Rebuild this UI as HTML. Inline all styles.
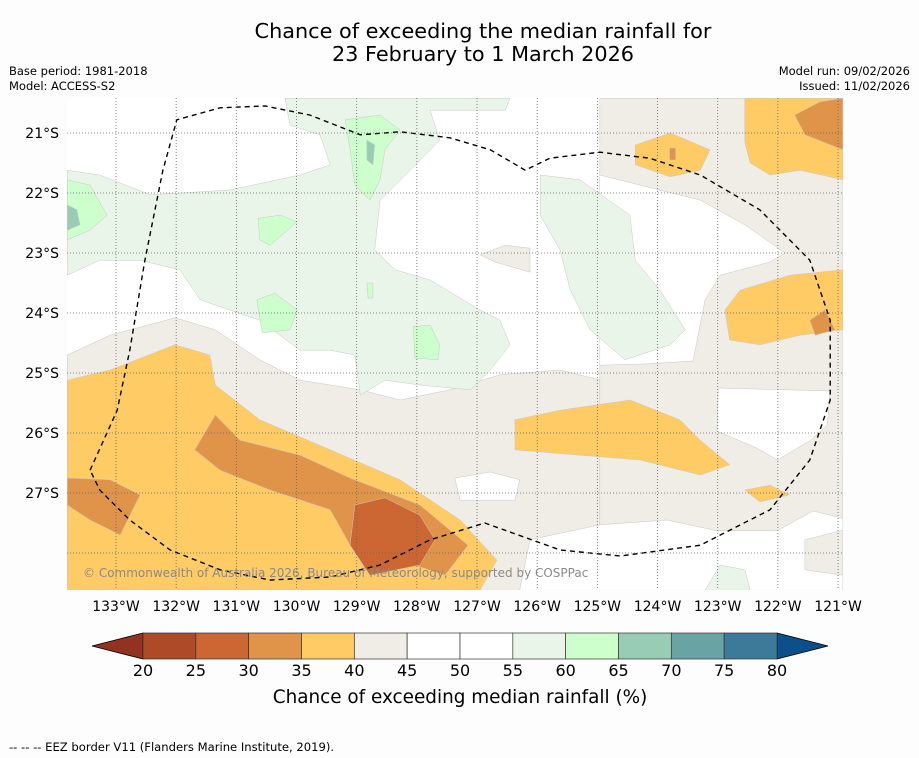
<!DOCTYPE html>
<html><head><meta charset="utf-8"><style>
body{margin:0;background:#fdfdfd;}
svg{display:block;font-family:"DejaVu Sans","Liberation Sans",sans-serif;}
</style></head><body>
<svg id="c" width="919" height="758" viewBox="0 0 919 758">
<rect width="919" height="758" fill="#fdfdfd"/>
<text x="483" y="38" font-size="20.8" text-anchor="middle">Chance of exceeding the median rainfall for</text>
<text x="483" y="61" font-size="20.8" text-anchor="middle">23 February to 1 March 2026</text>
<text x="9" y="75" font-size="11.5">Base period: 1981-2018</text>
<text x="9" y="90" font-size="11.5">Model: ACCESS-S2</text>
<text x="910" y="75" font-size="11.5" text-anchor="end">Model run: 09/02/2026</text>
<text x="910" y="90" font-size="11.5" text-anchor="end">Issued: 11/02/2026</text>
<defs><clipPath id="mapclip"><rect x="67" y="98" width="776" height="492"/></clipPath></defs>
<g id="map" clip-path="url(#mapclip)"><rect x="67" y="98" width="776" height="492" fill="#ffffff"/></g>
<g id="grid"></g>
<g id="axes"></g>
<text x="83" y="577" font-size="12" fill="#8a8a8a">© Commonwealth of Australia 2026, Bureau of Meteorology, supported by COSPPac</text>
<g id="cbar"></g>
<text x="460" y="703" font-size="18.4" text-anchor="middle">Chance of exceeding median rainfall (%)</text>
<text x="9" y="751" font-size="11.6">--  --  -- EEZ border V11 (Flanders Marine Institute, 2019).</text>
</svg>
<script>
const levels=[20,25,30,35,40,45,50,55,60,65,70,75,80];
const levelColors=["#ae4a27","#cc6633","#e0944a","#fecb65","#f0ece6","#ffffff","#ffffff","#eaf5ea","#ccffcc","#99ccb5","#6aa3a3","#3d7a99"];
const lonTicks=[133,132,131,130,129,128,127,126,125,124,123,122,121];
const latTicks=[21,22,23,24,25,26,27];
const latLines=[21,22,23,24,25,26,27,28];
const regionBands=[4,4,5,5,5,4,4,5,3,2,3,3,2,3,2,3,3,2,2,1,7,7,8,8,8,8,8,8,9,9,7];
const regionPolys=[
[[133.81,24.70],[133.10,24.37],[132.02,24.08],[131.35,24.28],[130.61,24.78],[129.94,25.12],[128.94,25.28],[128.28,25.45],[127.45,25.28],[126.62,25.03],[125.62,24.95],[124.62,25.20],[123.63,25.45],[123.29,25.78],[122.96,26.45],[122.30,26.78],[121.63,26.62],[120.92,26.45],[120.92,28.62],[133.81,28.62]],
[[124.96,20.42],[120.92,20.42],[120.92,28.62],[124.96,28.62]],
[[124.96,21.70],[123.29,22.12],[122.55,22.53],[121.88,23.00],[122.13,23.15],[122.96,23.37],[123.21,23.78],[123.41,24.80],[124.20,24.85],[124.96,24.87]],
[[122.99,25.25],[121.13,25.30],[121.18,25.87],[121.47,26.13],[122.01,26.45],[122.35,26.25],[123.01,25.97]],
[[126.12,27.78],[124.96,27.53],[123.84,27.45],[123.01,27.63],[122.01,27.63],[121.42,27.30],[120.92,27.42],[120.92,28.62],[126.29,28.62]],
[[121.55,27.78],[120.92,27.62],[120.92,28.37],[121.55,28.28]],
[[126.95,23.03],[126.53,22.87],[126.12,22.92],[126.12,23.32],[126.70,23.15]],
[[127.37,26.75],[126.78,26.65],[126.29,26.78],[126.37,27.12],[127.28,27.12]],
[[133.81,25.12],[133.10,24.95],[132.02,24.53],[131.44,24.70],[131.35,25.20],[130.61,25.78],[129.44,26.28],[128.28,26.78],[127.28,27.45],[126.67,28.12],[126.95,28.62],[133.81,28.62]],
[[131.69,26.28],[131.35,25.70],[130.94,26.12],[129.94,26.37],[129.11,26.75],[127.95,27.20],[127.15,27.87],[127.53,28.37],[128.28,28.12],[129.11,27.87],[129.44,27.28],[130.44,26.95],[131.27,26.62]],
[[122.55,20.42],[120.92,20.42],[120.92,21.78],[121.63,21.62],[122.13,21.70],[122.46,21.50],[122.55,21.15]],
[[124.37,21.20],[123.79,21.00],[123.13,21.28],[123.29,21.62],[123.79,21.73],[124.37,21.53]],
[[133.81,26.75],[133.10,26.78],[132.60,27.03],[132.93,27.70],[133.43,27.45],[133.81,27.20]],
[[122.63,23.62],[121.80,23.37],[120.92,23.28],[120.92,24.28],[121.63,24.37],[122.30,24.53],[122.80,24.45],[122.88,23.95]],
[[121.72,20.70],[121.30,20.48],[120.92,20.42],[120.92,21.28],[121.55,21.03]],
[[126.37,25.78],[125.62,25.62],[124.46,25.45],[123.63,25.78],[123.29,26.12],[122.80,26.53],[123.29,26.70],[124.29,26.45],[125.29,26.37],[126.37,26.28]],
[[122.55,26.95],[122.13,26.87],[121.80,27.03],[122.30,27.15]],
[[121.47,24.12],[121.22,23.95],[121.05,24.28],[121.38,24.37]],
[[123.80,21.25],[123.70,21.25],[123.70,21.45],[123.80,21.45]],
[[129.03,27.20],[128.53,27.08],[127.95,27.37],[127.70,27.78],[127.95,28.20],[128.78,28.37],[129.11,27.87]],
[[133.81,21.62],[133.27,21.70],[132.43,22.03],[131.11,21.95],[129.94,21.70],[129.44,21.53],[129.61,21.03],[130.11,20.87],[130.19,20.42],[126.45,20.42],[126.53,20.62],[127.78,20.62],[127.62,21.12],[128.11,21.62],[128.61,22.12],[128.70,22.95],[128.36,23.28],[127.78,23.45],[126.95,23.95],[126.62,24.12],[126.45,24.53],[126.78,24.95],[127.11,25.28],[127.95,25.20],[128.53,25.12],[128.94,25.37],[129.03,24.70],[129.44,24.62],[129.94,24.62],[130.61,24.12],[131.11,23.95],[131.60,23.78],[131.94,23.28],[132.60,23.12],[133.27,23.12],[133.81,23.37]],
[[125.95,21.70],[125.29,21.78],[124.46,22.37],[124.37,23.12],[123.96,23.62],[123.54,24.28],[123.79,24.53],[124.54,24.78],[125.12,24.28],[125.45,23.62],[125.62,22.95],[125.95,22.37]],
[[129.19,20.78],[128.61,20.70],[128.28,20.95],[128.53,21.28],[128.61,21.78],[128.78,22.12],[129.03,21.87],[129.11,21.28]],
[[133.81,21.78],[133.43,21.87],[133.15,22.37],[133.43,22.62],[133.81,22.78]],
[[130.64,22.42],[130.27,22.37],[129.99,22.48],[130.44,22.87],[130.61,22.78]],
[[130.66,23.78],[130.36,23.67],[129.99,23.95],[130.11,24.28],[130.57,24.33]],
[[128.06,24.23],[127.78,24.20],[127.62,24.53],[127.65,24.78],[128.03,24.75]],
[[128.83,23.50],[128.73,23.50],[128.73,23.75],[128.81,23.75]],
[[128.83,21.12],[128.70,21.20],[128.73,21.53],[128.83,21.45]],
[[133.81,22.20],[133.65,22.28],[133.60,22.53],[133.81,22.62]],
[[123.21,28.62],[122.96,28.20],[122.55,28.28],[122.46,28.62]]
];
const eez=[[133.43,26.62],[132.98,25.62],[132.77,24.62],[132.52,23.12],[132.22,21.62],[131.99,20.78],[131.27,20.58],[130.52,20.55],[129.78,20.70],[128.94,21.03],[128.28,20.98],[127.45,21.08],[126.78,21.28],[126.20,21.62],[125.79,21.42],[124.96,21.32],[124.13,21.42],[123.29,21.70],[122.30,22.28],[121.47,23.12],[121.13,24.12],[121.13,25.45],[121.47,26.45],[122.13,27.28],[123.29,27.87],[124.62,28.05],[125.62,27.95],[126.87,27.50],[127.78,27.78],[128.61,28.20],[129.44,28.40],[130.44,28.45],[131.27,28.28],[132.10,27.95],[132.77,27.45],[133.27,26.95],[133.43,26.62]];

const NS='http://www.w3.org/2000/svg';
const xS=w=>116+(133-w)*60.17;
const yS=s=>133+(s-21)*60;
const cx=v=>143+(v-20)*(634/60);
function mk(tag,attrs,parent){const e=document.createElementNS(NS,tag);for(const k in attrs)e.setAttribute(k,attrs[k]);parent.appendChild(e);return e;}
const map=document.getElementById('map');
regionPolys.forEach((poly,i)=>{
  const p=mk('polygon',{points:poly.map(q=>xS(q[0]).toFixed(1)+','+yS(q[1]).toFixed(1)).join(' '),fill:levelColors[regionBands[i]],stroke:'#c8c8c8','stroke-width':'0.5'},map);
  
  
});
const ez=mk('polyline',{points:eez.map(q=>xS(q[0]).toFixed(1)+','+yS(q[1]).toFixed(1)).join(' '),fill:'none',stroke:'#000','stroke-width':'1.4','stroke-dasharray':'5,4'},map);


const grid=document.getElementById('grid');
lonTicks.forEach(w=>{
  const l=mk('line',{x1:xS(w),x2:xS(w),y1:98,y2:590,stroke:'#666','stroke-width':'0.8','stroke-dasharray':'1,2'},grid);
  
  
});
latLines.forEach(s=>{
  const l=mk('line',{x1:67,x2:843,y1:yS(s),y2:yS(s),stroke:'#666','stroke-width':'0.8','stroke-dasharray':'1,2'},grid);
  
  
});
const axes=document.getElementById('axes');
lonTicks.forEach(w=>{
  const t=mk('text',{x:xS(w),y:611,'font-size':'14','text-anchor':'middle'},axes);
  t.textContent=w+'°W';
  
  
});
latTicks.forEach(s=>{
  const t=mk('text',{x:59,y:yS(s)+5,'font-size':'14','text-anchor':'end'},axes);
  t.textContent=s+'°S';
  
  
});
const cb=document.getElementById('cbar');
const lt=mk('polygon',{points:`${cx(20)},633 ${cx(20)},659 92,646`,fill:'#913320',stroke:'#000','stroke-width':'0.8'},cb);


const rt=mk('polygon',{points:`${cx(80)},633 ${cx(80)},659 828,646`,fill:'#0d4f8b',stroke:'#000','stroke-width':'0.8'},cb);


levelColors.forEach((c,i)=>{
  const r=mk('rect',{x:cx(levels[i]),y:633,width:cx(levels[i+1])-cx(levels[i]),height:26,fill:c,stroke:'#333','stroke-width':'0.7'},cb);
  
  
});
levels.forEach(v=>{
  const t=mk('text',{x:cx(v),y:676,'font-size':'16','text-anchor':'middle'},cb);
  t.textContent=v;
  
  
});
</script>
</body></html>
